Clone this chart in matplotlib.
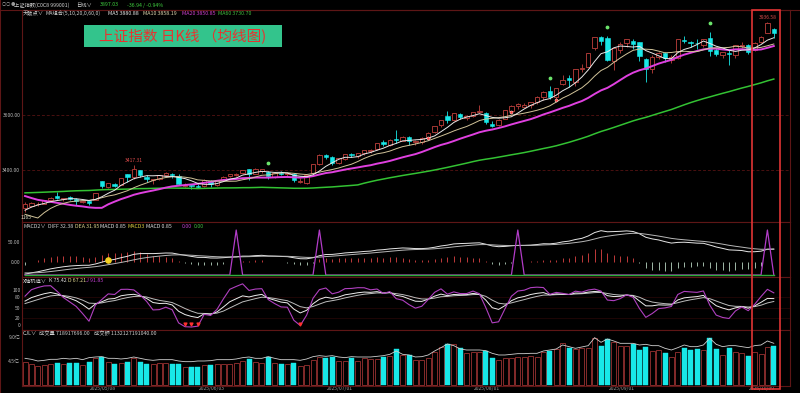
import matplotlib
matplotlib.use('Agg')
import matplotlib.pyplot as plt
import numpy as np
import pandas as pd
from matplotlib.patches import Rectangle

plt.rcParams['font.family'] = ['Noto Sans CJK SC', 'DejaVu Sans']

# ---------------- data ----------------
months = [4, 5, 6, 7, 8, 9, 10]
month_days = [
    [16, 17, 18, 21, 22, 23, 24, 25, 28, 29, 30],
    [6, 7, 8, 9, 12, 13, 14, 15, 16, 19, 20, 21, 22, 23, 26, 27, 28, 29, 30],
    [3, 4, 5, 6, 9, 10, 11, 12, 13, 16, 17, 18, 19, 20, 23, 24, 25, 26, 27, 30],
    [1, 2, 3, 4, 7, 8, 9, 10, 11, 14, 15, 16, 17, 18, 21, 22, 23, 24, 25, 28, 29, 30, 31],
    [1, 4, 5, 6, 7, 8, 11, 12, 13, 14, 15, 18, 19, 20, 21, 22, 25, 26, 27, 28, 29],
    [1, 2, 3, 4, 5, 8, 9, 10, 11, 12, 15, 16, 17, 18, 19, 22, 23, 24, 25, 26, 29, 30],
    [9, 10],
]
dates = [f"2025/{m:02d}/{d:02d}" for m, ds in zip(months, month_days) for d in ds]

open_ = [3262, 3268, 3275, 3277, 3290, 3305, 3293, 3300, 3294, 3284, 3286,
         3290, 3361, 3337, 3350, 3346, 3384, 3375, 3399, 3376, 3362, 3368, 3380, 3384, 3379, 3343, 3346, 3342, 3340, 3361,
         3345, 3363, 3378, 3382, 3389, 3402, 3386, 3398, 3394, 3374, 3390, 3385, 3387, 3358, 3352, 3389, 3421, 3455, 3449, 3424,
         3441, 3458, 3451, 3460, 3468, 3475, 3500, 3491, 3512, 3507, 3520, 3500, 3503, 3518, 3537, 3562, 3597, 3582, 3605, 3589, 3596, 3611, 3609,
         3567, 3563, 3585, 3615, 3632, 3630, 3638, 3648, 3666, 3686, 3664, 3712, 3735, 3721, 3767, 3774, 3844, 3883, 3880, 3795, 3838,
         3860, 3870, 3866, 3805, 3766, 3812, 3824, 3800, 3807, 3873, 3867, 3863, 3853, 3880, 3835, 3818, 3826, 3817, 3851, 3856, 3836, 3866,
         3898, 3914]
high = [3283, 3285, 3282, 3292, 3300, 3321, 3299, 3305, 3298, 3290, 3288,
        3316.5, 3361, 3354, 3352, 3370, 3384, 3417.31, 3400, 3381, 3368, 3383, 3391, 3388, 3385, 3352, 3347, 3350, 3366, 3363,
        3362, 3378, 3386, 3390, 3400, 3403, 3407, 3405, 3397, 3392, 3395, 3393, 3388, 3372, 3382, 3422, 3457, 3458, 3452, 3445,
        3459, 3461, 3463, 3474, 3478, 3498, 3509, 3512, 3544, 3522, 3523, 3510, 3519, 3537, 3560, 3582, 3613, 3606, 3608, 3599, 3610, 3636, 3610,
        3578, 3584, 3618, 3635, 3645, 3645, 3649, 3669, 3688, 3704, 3697, 3745, 3746, 3767, 3787, 3826, 3884, 3888, 3888, 3845, 3866,
        3876, 3876, 3866, 3809, 3817, 3829, 3830, 3817, 3876, 3888, 3870, 3876, 3877, 3900, 3843, 3829, 3838, 3854, 3865, 3857, 3865, 3888,
        3936.58, 3916]
low = [3248, 3267, 3269, 3275, 3282, 3293, 3288, 3290, 3273, 3279, 3274,
       3290, 3334, 3333, 3337, 3346, 3358, 3368, 3376, 3356, 3350, 3365, 3377, 3370, 3346, 3338, 3331, 3334, 3338, 3339,
       3341, 3361, 3375, 3378, 3385, 3363, 3384, 3388, 3367, 3372, 3381, 3378, 3357, 3353, 3348, 3389, 3419, 3441, 3419, 3423,
       3438, 3448, 3445, 3455, 3463, 3474, 3487, 3488, 3497, 3504, 3492, 3490, 3496, 3515, 3535, 3556, 3570, 3577, 3585, 3580, 3592, 3606, 3568,
       3555, 3560, 3584, 3612, 3622, 3628, 3627, 3641, 3656, 3659, 3654, 3708, 3702, 3706, 3758, 3774, 3838, 3854, 3795, 3763, 3826,
       3847, 3839, 3798, 3721, 3751, 3804, 3792, 3790, 3804, 3861, 3846, 3840, 3848, 3815, 3816, 3808, 3783, 3806, 3845, 3823, 3832, 3863,
       3897, 3880]
close = [3276.00, 3280.34, 3276.73, 3291.43, 3299.76, 3296.36, 3297.29, 3295.06, 3288.41, 3286.65, 3279.03,
         3316.11, 3342.67, 3352.00, 3342.00, 3369.24, 3374.87, 3403.95, 3380.82, 3367.46, 3367.58, 3380.48, 3387.57, 3380.19, 3348.37, 3346.84, 3340.69, 3339.93, 3363.45, 3347.49,
         3361.98, 3376.20, 3384.10, 3385.36, 3399.77, 3384.82, 3402.32, 3402.66, 3377.00, 3388.73, 3386.99, 3388.81, 3362.11, 3359.90, 3381.58, 3420.57, 3455.97, 3448.45, 3424.23, 3444.43,
         3457.75, 3454.79, 3461.15, 3472.32, 3473.13, 3497.48, 3493.05, 3509.68, 3510.18, 3519.65, 3505.00, 3503.78, 3516.83, 3534.48, 3559.79, 3581.86, 3582.30, 3605.73, 3593.66, 3597.94, 3609.71, 3615.72, 3573.21,
         3559.95, 3583.31, 3617.60, 3633.99, 3639.67, 3635.13, 3647.55, 3665.92, 3683.46, 3666.44, 3696.77, 3728.03, 3727.29, 3766.21, 3771.10, 3825.76, 3883.56, 3868.38, 3800.35, 3843.60, 3857.93,
         3875.53, 3858.13, 3813.56, 3765.88, 3812.51, 3826.84, 3807.29, 3812.22, 3875.31, 3870.60, 3860.50, 3861.87, 3876.34, 3831.66, 3820.09, 3828.58, 3821.83, 3853.64, 3853.30, 3828.11, 3862.53, 3882.78,
         3933.97, 3897.03]

# closes before the visible window (for moving averages / MACD warm-up)
pre_close = [3240.94, 3227.12, 3236.03, 3241.82, 3244.38, 3242.62, 3213.62, 3230.16, 3252.63, 3250.60,
             3229.49, 3270.66, 3303.67, 3322.17, 3318.06, 3346.39, 3332.48, 3346.72, 3355.83, 3324.49, 3351.54, 3350.78, 3379.11, 3373.03, 3346.04, 3380.21, 3388.06, 3320.90,
             3316.93, 3324.21, 3341.96, 3381.10, 3372.55, 3366.16, 3379.83, 3371.92, 3358.73, 3419.56, 3426.43, 3429.76, 3426.43, 3408.95, 3364.83, 3370.03, 3369.71, 3368.70, 3373.75, 3351.31, 3335.75,
             3348.44, 3350.13, 3342.01, 3096.58, 3145.55, 3186.81, 3223.64, 3238.23, 3262.81, 3267.66]
pre_high = [3353, 3352, 3349, 3193, 3156, 3188, 3238, 3239, 3263, 3268]
pre_low = [3334, 3340, 3321, 3040, 3082, 3099, 3205, 3191, 3245, 3251]

# volume (亿) and turnover (亿元)
volume = [4.25, 3.88, 3.64, 3.76, 4.01, 4.19, 3.88, 4.07, 4.07, 3.76, 4.38,
          4.99, 5.18, 4.38, 3.94, 4.19, 4.25, 4.99, 4.25, 3.94, 3.94, 4.07, 4.07, 3.88, 3.88, 3.45, 3.45, 3.45, 3.76, 3.76,
          3.88, 3.94, 3.88, 4.19, 4.50, 4.81, 4.25, 4.19, 5.18, 4.19, 3.88, 3.88, 4.07, 3.57, 3.76, 4.69, 5.18, 4.99, 5.30, 4.50,
          4.50, 5.12, 4.50, 4.99, 4.87, 4.87, 5.30, 5.49, 6.72, 5.61, 5.61, 4.69, 4.69, 4.99, 6.23, 7.03, 7.65, 7.65, 6.97, 6.04, 6.23, 6.23, 6.41,
          5.12, 4.69, 4.99, 4.99, 5.30, 5.30, 5.43, 5.30, 6.23, 6.41, 6.72, 7.77, 6.97, 6.72, 6.97, 6.97, 8.70, 7.34, 8.57, 7.96, 7.34,
          7.34, 7.59, 6.54, 7.03, 6.35, 6.54, 5.92, 5.30, 6.11, 6.97, 6.54, 6.72, 6.54, 8.70, 6.72, 5.61, 6.97, 6.11, 5.92, 5.49, 6.11, 5.74,
          7.15, 7.19]
amount = [7268, 6999, 6549, 6729, 6999, 6999, 7268, 7088, 7268, 6908, 7447,
          7627, 7716, 7268, 7268, 7088, 7268, 7627, 7268, 6908, 6729, 6908, 6908, 6908, 6549, 6369, 6369, 6549, 6549, 6638,
          6908, 6908, 6908, 7088, 7447, 7627, 7268, 7268, 7716, 7268, 6908, 6908, 6908, 6729, 7088, 7716, 7986, 7806, 7986, 7627,
          7447, 7716, 7627, 7627, 7627, 7806, 7986, 8346, 9244, 8346, 8166, 7627, 7716, 8166, 9244, 10142, 11131, 10680, 9783, 9513, 9513, 9513, 9333,
          8615, 8166, 8166, 8346, 8525, 8525, 8615, 8615, 9244, 9513, 9783, 10861, 10411, 9962, 10322, 10680, 12837, 11579, 12478, 11939, 11310,
          11310, 11310, 10861, 11041, 10680, 10680, 9962, 9513, 10142, 10861, 10411, 10411, 10861, 12657, 11041, 10411, 10680, 10680, 10411, 10142, 10680, 10861,
          11939, 11321]
last_volume_raw = 718917696.00
last_amount_raw = 1132127191040.00
low_label_text = "1165"

signal_top_idx = [38, 82, 91, 107]      # green dots above candles
signal_low_idx = [63, 76, 83]           # small red dots at candle lows
macd_spike_idx = [33, 46, 77, 116]      # purple MACD3 spikes
kdj_signal_idx = [25, 26, 27, 43]       # red marks at KDJ lows
macd_face_idx = 13
tick_dates = ['2025/05/08', '2025/06/03', '2025/07/01', '2025/08/01', '2025/09/01', '2025/10/09']

n = len(close)
assert len(dates) == n == len(open_) == len(high) == len(low) == len(volume) == len(amount)

# ---------------- indicators ----------------
allc = pd.Series(pre_close + close)
ma = {w: allc.rolling(w, min_periods=1).mean().to_numpy()[-n:] for w in (5, 10, 20, 60)}
ema12 = allc.ewm(span=12, adjust=False).mean()
ema26 = allc.ewm(span=26, adjust=False).mean()
diff_all = ema12 - ema26
dea_all = diff_all.ewm(span=9, adjust=False).mean()
diff = diff_all.to_numpy()[-n:]
dea = dea_all.to_numpy()[-n:]
macd = 2 * (diff - dea)

kc = pd.Series(pre_close[-len(pre_high):] + close)
kh = pd.Series(pre_high + high)
kl = pd.Series(pre_low + low)
llv = kl.rolling(9, min_periods=1).min()
hhv = kh.rolling(9, min_periods=1).max()
rsv = ((kc - llv) / (hhv - llv) * 100).to_numpy()
K = np.zeros(len(rsv)); D = np.zeros(len(rsv))
k0, d0 = 50.0, 50.0
for i, r in enumerate(rsv):
    k0 = (2 * k0 + r) / 3
    d0 = (2 * d0 + k0) / 3
    K[i], D[i] = k0, d0
J = 3 * K - 2 * D
K, D, J = K[-n:], D[-n:], J[-n:]

# ---------------- figure ----------------
W, H = 800, 393
fig = plt.figure(figsize=(8.0, 3.93), dpi=100, facecolor='black')

def rect(x0, y0, x1, y1):
    return [x0 / W, 1 - y1 / H, (x1 - x0) / W, (y1 - y0) / H]

def fxy(x, y):
    return x / W, 1 - y / H

FRAME = '#5e1616'
GRID = '#4a1010'
LBL = '#b8b8b8'
UP = '#c0403c'
DN = '#18e8e8'
x = np.arange(n)
XL = (-0.47, 119.53)
TFS = 3.6

def style(ax):
    ax.set_facecolor('black')
    ax.set_xlim(*XL)
    for s in ax.spines.values():
        s.set_color(FRAME)
        s.set_linewidth(0.8)
    ax.tick_params(axis='both', length=0, labelsize=TFS, labelcolor=LBL, pad=1.2)
    ax.set_xticks([])

ax_p = fig.add_axes(rect(22, 10, 790, 222))
ax_m = fig.add_axes(rect(22, 222, 790, 277))
ax_k = fig.add_axes(rect(22, 277, 790, 330))
ax_v = fig.add_axes(rect(22, 330, 790, 386))
for a in (ax_p, ax_m, ax_k, ax_v):
    style(a)

# ---- price panel ----
ax_p.set_ylim(3210.9, 3981.8)
ax_p.set_yticks([3400, 3600])
ax_p.set_yticklabels(['3400.00', '3600.00'])
for lv in (3400, 3600):
    ax_p.axhline(lv, color=GRID, lw=0.7, ls=(0, (3, 2)), zorder=0)

o = np.array(open_); c = np.array(close); h = np.array(high); l = np.array(low)
up = c >= o
bot = np.minimum(o, c); top = np.maximum(o, c)
body = np.maximum(top - bot, 0.8)
ax_p.vlines(x[up], l[up], bot[up], color=UP, lw=0.6, zorder=2)
ax_p.vlines(x[up], top[up], h[up], color=UP, lw=0.6, zorder=2)
ax_p.vlines(x[~up], l[~up], h[~up], color=DN, lw=0.6, zorder=2)
ax_p.bar(x[up], body[up], bottom=bot[up], width=0.7, facecolor='black', edgecolor=UP, lw=0.6, zorder=3)
ax_p.bar(x[~up], body[~up], bottom=bot[~up], width=0.7, facecolor=DN, edgecolor=DN, lw=0.4, zorder=3)

ax_p.plot(x, ma[60], color='#33c233', lw=1.1, zorder=4)
ax_p.plot(x, ma[20], color='#e040e0', lw=1.4, zorder=4)
ax_p.plot(x, ma[10], color='#d2c49a', lw=0.7, zorder=5)
ax_p.plot(x, ma[5], color='#e8e8e8', lw=0.7, zorder=5)

hs = h[signal_top_idx]
ax_p.scatter(signal_top_idx, hs * 1.0085, s=3, color='#6be36b', zorder=6)
ax_p.scatter(signal_low_idx, l[signal_low_idx], s=5, color='#ff4040', edgecolors='#ffffff', linewidths=0.3, zorder=6)

i_hi = int(np.argmax(high[:40]))
ax_p.annotate(f"{high[i_hi]:.2f}", (i_hi, high[i_hi]), xytext=(0, 1.5), textcoords='offset points',
              ha='center', va='bottom', fontsize=TFS, color='#d84a4a')
i_hi2 = int(np.argmax(high))
ax_p.annotate(f"{high[i_hi2]:.2f}", (i_hi2, high[i_hi2]), xytext=(0, 1.5), textcoords='offset points',
              ha='center', va='bottom', fontsize=TFS, color='#d84a4a')
i_lo = int(np.argmin(low))
ax_p.annotate(low_label_text, (i_lo, low[i_lo]), xytext=(1, -2), textcoords='offset points',
              ha='center', va='top', fontsize=TFS, color='#e0e0c8')

# ---- MACD panel ----
ax_m.set_ylim(-37.5, 100)
ax_m.set_yticks([0, 50])
ax_m.set_yticklabels(['0.00', '50.00'])
hist_col = np.where(macd >= 0, '#c03a3a', '#9fb8a8')
ax_m.vlines(x, 0, macd, colors=hist_col, lw=0.7)
ax_m.plot(x, diff, color='#e6e6e6', lw=0.7)
ax_m.plot(x, dea, color='#b8b8b8', lw=0.7)
ax_m.scatter([macd_face_idx], [diff[macd_face_idx]], s=14, color='#f5d020', zorder=5)
ax_m2 = ax_m.twinx()
ax_m2.set_ylim(-0.044, 1.178)
ax_m2.set_xlim(*XL)
ax_m2.axis('off')
spike = np.zeros(n)
spike[macd_spike_idx] = 1
ax_m2.plot(x, spike, color='#b23cc8', lw=0.9)
ax_m2.plot(x, np.zeros(n), color='#2fae3a', lw=1.0)

# ---- KDJ panel ----
ax_k.set_ylim(-14, 137)
ax_k.set_yticks([0, 20, 50, 80, 100])
ax_k.set_yticklabels(['0', '20', '50', '80', '100'])
for lv in (20, 50, 80):
    ax_k.axhline(lv, color='#2a0808', lw=0.5, zorder=0)
ax_k.plot(x, D, color='#bdbdbd', lw=0.7)
ax_k.plot(x, K, color='#eeeeee', lw=0.7)
ax_k.plot(x, J, color='#b040c0', lw=0.8)
ax_k.scatter(kdj_signal_idx, np.zeros(len(kdj_signal_idx)) + 2, s=4, marker='v', color='#ff3030', zorder=5)

# ---- volume panel ----
ax_v.set_ylim(-0.13, 10.24)
ax_v.set_yticks([4.5, 9.0])
ax_v.set_yticklabels(['4.5亿', '9.0亿'])
v = np.array(volume)
ax_v.bar(x[up], v[up], width=0.78, facecolor='black', edgecolor='#9a3232', lw=0.6)
ax_v.bar(x[~up], v[~up], width=0.78, facecolor=DN, edgecolor=DN, lw=0.3)
ax_v2 = ax_v.twinx()
ax_v2.set_ylim(-0.13 * 1455, 10.24 * 1455)
ax_v2.set_xlim(*XL)
ax_v2.axis('off')
ax_v2.plot(x, amount, color='#cfcfcf', lw=0.6)

tick_idx = [dates.index(d) for d in tick_dates]
ax_v.set_xticks(np.array(tick_idx) - 0.8)
ax_v.set_xticklabels(tick_dates)
ax_v.tick_params(axis='x', length=0, pad=0.3, labelsize=TFS, labelcolor='#9a9a9a')

# ---------------- header texts ----------------
fs = 3.8
def ftxt(xp, yp, s, col, **kw):
    fig.text(*fxy(xp, yp), s, fontsize=kw.pop('size', fs), color=col, va='center', **kw)

ftxt(2, 5, "○○ ●", '#9a9a9a', size=3.0)
ftxt(14, 5, "上证指数(C0C8 999001)", '#d0d0d0')
ftxt(76, 5, "日线∨", '#d0d0d0')
ftxt(100, 5, f"{close[-1]:.2f}", '#3fd03f')
chg = close[-1] - close[-2]
ftxt(127, 5, f"{chg:.2f} / {chg / close[-2] * 100:.2f}%", '#3fd03f')

ftxt(23, 13.5, "天破点∨", '#d0d0d0')
ftxt(46, 13.5, "MA组合(5,10,20,0,60,0)", '#d0d0d0')
ftxt(108, 13.5, f"MA5 {ma[5][-1]:.2f}", '#e8e8e8')
ftxt(143, 13.5, f"MA10 {ma[10][-1]:.2f}", '#e0d8b0')
ftxt(182, 13.5, f"MA20 {ma[20][-1]:.2f}", '#d040d0')
ftxt(218, 13.5, f"MA60 {ma[60][-1]:.2f}", '#40c040')

# title box
bx0, by0, bx1, by1 = 84, 25, 282, 47
fig.patches.append(Rectangle(fxy(bx0, by1), (bx1 - bx0) / W, (by1 - by0) / H,
                             transform=fig.transFigure, facecolor='#33c48c', edgecolor='none', zorder=5))
fig.text(*fxy((bx0 + bx1) / 2, (by0 + by1) / 2 + 0.5), "上证指数 日K线 （均线图)", fontsize=10.5,
         color='#e8332f', ha='center', va='center', zorder=6)

ftxt(23, 226, "MACD2∨", '#d0d0d0')
ftxt(48, 226, f"DIFF {diff[-1]:.2f}", '#d0d0d0')
ftxt(75, 226, f"DEA {dea[-1]:.2f}", '#e0d890')
ftxt(100, 226, f"MACD {macd[-1]:.2f}", '#e0e0e0')
ftxt(127, 226, "MACD3", '#e0d040')
ftxt(146, 226, f"MACD {macd[-1]:.2f}", '#e0e0e0')
ftxt(182, 226, "0.00", '#c040d0')
ftxt(194, 226, "0.00", '#40c040')

ftxt(23, 281, "X随机值∨", '#d0d0d0')
ftxt(49, 281, f"K {K[-1]:.2f}", '#e0e0e0')
ftxt(68, 281, f"D {D[-1]:.2f}", '#e0d890')
ftxt(86, 281, f"J {J[-1]:.2f}", '#c040d0')

ftxt(23, 333.5, "CJL∨", '#d0d0d0')
ftxt(39, 333.5, f"成交量 {last_volume_raw:.2f}", '#d0d0d0')
ftxt(94, 333.5, f"成交额 {last_amount_raw:.2f}", '#d0d0d0')

# top border line and highlight rectangle
fig.lines.append(plt.Line2D([0, 1], [1 - 10 / H, 1 - 10 / H], transform=fig.transFigure, color=FRAME, lw=0.8))
fig.patches.append(Rectangle(fxy(752, 389), 28 / W, 379 / H, transform=fig.transFigure,
                             facecolor='none', edgecolor='#e03434', lw=1.2, zorder=10))
fig.lines.append(plt.Line2D([0, 0], [0, 1], transform=fig.transFigure, color=FRAME, lw=1.5))

fig.savefig('out.png', dpi=100, facecolor='black')
